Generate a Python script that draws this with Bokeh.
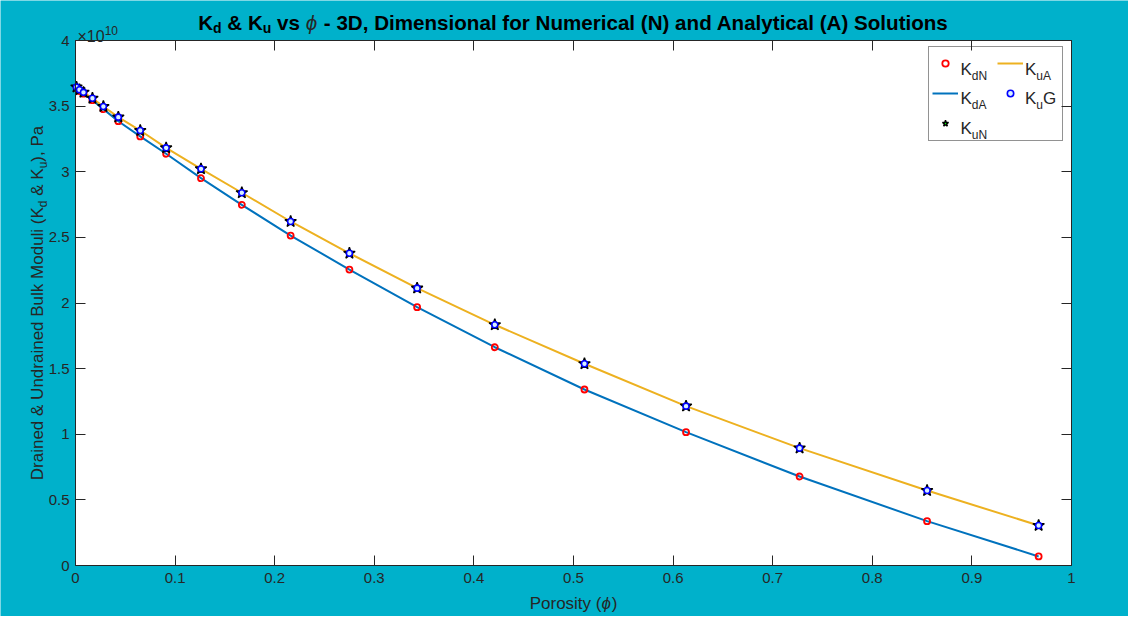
import math
from bokeh.plotting import figure
from bokeh.models import (Range1d, LinearAxis, Label, Legend, LegendItem,
                          FixedTicker, NumeralTickFormatter, BoxAnnotation,
                          CustomJSTickFormatter)
from bokeh.embed import file_html
from bokeh.resources import INLINE

# ---------------- data (moduli in units of 1e10 Pa) ----------------
phi = [0.001, 0.004, 0.008, 0.017, 0.028, 0.043, 0.065, 0.091, 0.126, 0.167,
       0.216, 0.275, 0.343, 0.421, 0.511, 0.613, 0.727, 0.855, 0.967]
kd_num = [3.640, 3.615, 3.595, 3.545, 3.477, 3.385, 3.269, 3.137, 2.951, 2.748,
          2.514, 2.255, 1.968, 1.663, 1.341, 1.016, 0.678, 0.338, 0.069]
kd_ana = [3.640, 3.615, 3.595, 3.545, 3.477, 3.385, 3.269, 3.137, 2.951, 2.748,
          2.514, 2.255, 1.968, 1.663, 1.341, 1.016, 0.678, 0.338, 0.069]
ku_num = [3.645, 3.625, 3.605, 3.560, 3.497, 3.416, 3.314, 3.182, 3.022, 2.840,
          2.621, 2.379, 2.113, 1.834, 1.537, 1.214, 0.894, 0.571, 0.305]
ku_ana = [3.645, 3.625, 3.605, 3.560, 3.497, 3.416, 3.314, 3.182, 3.022, 2.840,
          2.621, 2.379, 2.113, 1.834, 1.537, 1.214, 0.894, 0.571, 0.305]
ku_gass = [3.645, 3.625, 3.605, 3.560, 3.497, 3.416, 3.314, 3.182, 3.022, 2.840,
           2.621, 2.379, 2.113, 1.834, 1.537, 1.214, 0.894, 0.571, 0.305]
x_ticks = [0, 0.1, 0.2, 0.3, 0.4, 0.5, 0.6, 0.7, 0.8, 0.9, 1]
y_ticks = [0, 0.5, 1, 1.5, 2, 2.5, 3, 3.5, 4]
X_LIM = (0, 1)
Y_LIM = (0, 4)

# ---------------- layout (pixels) ----------------
W, H = 1128, 616
AX_L, AX_R, AX_T, AX_B = 75, 1071, 40, 565   # plot box on the page

TEAL = "#00B1CB"
DARK = "#262626"
FONT = "Liberation Sans"
BLUE = "#0072BD"
ORANGE = "#EDB120"

# Arial-compatible advance widths (per 1000 em)
REG = {' ': 278, '&': 667, '(': 333, ')': 333, ',': 278, '-': 333, '.': 278,
       'A': 667, 'B': 667, 'D': 722, 'G': 778, 'K': 667, 'M': 833, 'N': 722,
       'P': 667, 'U': 722, 'a': 556, 'd': 556, 'e': 556, 'i': 222, 'k': 500,
       'l': 222, 'n': 556, 'o': 556, 'r': 333, 's': 500, 't': 278, 'u': 556,
       'y': 500, '×': 584, 'ϕ': 600}
BOLD = {' ': 278, '&': 722, '(': 333, ')': 333, ',': 278, '-': 333,
        'A': 722, 'D': 722, 'K': 722, 'N': 722, 'S': 667, 'a': 556, 'c': 556,
        'd': 611, 'e': 556, 'f': 333, 'i': 278, 'l': 278, 'm': 889, 'n': 611,
        'o': 611, 'r': 389, 's': 556, 't': 333, 'u': 611, 'v': 556, 'y': 556,
        'ϕ': 600}


def tw(s, size, bold=False):
    tab = BOLD if bold else REG
    return sum(tab.get(c, 556) for c in s) * size / 1000.0


# data ranges chosen so the data box lands on the plot box; frame = whole canvas
sx = (AX_R - AX_L) / (X_LIM[1] - X_LIM[0])
sy = (AX_B - AX_T) / (Y_LIM[1] - Y_LIM[0])
xr = Range1d(X_LIM[0] - AX_L / sx, X_LIM[1] + (W - AX_R) / sx)
yr = Range1d(Y_LIM[0] - (H - AX_B) / sy, Y_LIM[1] + AX_T / sy)

p = figure(width=W, height=H, x_range=xr, y_range=yr,
           output_backend="svg", toolbar_location=None,
           background_fill_color=TEAL, border_fill_color=TEAL,
           min_border=0)
p.title.visible = False
p.xgrid.visible = False
p.ygrid.visible = False
p.outline_line_color = None

p.add_layout(BoxAnnotation(left=X_LIM[0], right=X_LIM[1], bottom=Y_LIM[0], top=Y_LIM[1],
                           fill_color="white", fill_alpha=1, line_color=None,
                           level="underlay"))

p.add_layout(LinearAxis(), "above")
p.add_layout(LinearAxis(), "right")
p.below[0].fixed_location = Y_LIM[0]
p.above[0].fixed_location = Y_LIM[1]
p.left[0].fixed_location = X_LIM[0]
p.right[0].fixed_location = X_LIM[1]

for ax in p.xaxis:
    ax.ticker = FixedTicker(ticks=x_ticks)
    ax.formatter = NumeralTickFormatter(format="0.[0]")
    ax.bounds = X_LIM
for ax in p.yaxis:
    ax.ticker = FixedTicker(ticks=y_ticks)
    ax.formatter = NumeralTickFormatter(format="0.[0]")
    ax.bounds = Y_LIM
for ax in p.axis:
    ax.axis_line_color = DARK
    ax.major_tick_line_color = DARK
    ax.major_tick_in = 10
    ax.major_tick_out = 0
    ax.minor_tick_line_color = None
    ax.major_label_text_font = FONT
    ax.major_label_text_font_size = "15px"
    ax.major_label_text_color = DARK
for ax in (p.above[0], p.right[0]):
    ax.formatter = CustomJSTickFormatter(code="return ''")
p.below[0].major_label_standoff = 7
p.left[0].major_label_standoff = 6

# ---------------- data renderers ----------------
r_kdA = p.line(phi, kd_ana, line_color=BLUE, line_width=2)
r_kuA = p.line(phi, ku_ana, line_color=ORANGE, line_width=2)
r_kdN = p.scatter(phi, kd_num, marker="circle", size=6, line_color="#FF0000",
                  fill_color=None, line_width=1.8)
r_kuN = p.scatter(phi, ku_num, marker="star", size=12, line_color="black",
                  fill_color="#00FF00", line_width=1.4)
r_kuG = p.scatter(phi, ku_gass, marker="circle", size=6, line_color="#0000FF",
                  fill_color="#D8F0FF", line_width=1.6)

# ---------------- legend (samples from Bokeh, text as labels) ----------------
LEG_L, LEG_B = 927.7, 140.7
legend = Legend(items=[LegendItem(label=" ", renderers=[r_kdN]),
                       LegendItem(label=" ", renderers=[r_kuA]),
                       LegendItem(label=" ", renderers=[r_kdA]),
                       LegendItem(label=" ", renderers=[r_kuG]),
                       LegendItem(label=" ", renderers=[r_kuN])],
                orientation="horizontal", ncols=2,
                location=(LEG_L, H - LEG_B),
                glyph_width=26, glyph_height=16,
                label_width=33, label_height=27, label_standoff=3,
                label_text_font_size="8px",
                spacing=3, padding=3, margin=0,
                border_line_color=DARK, border_line_width=1,
                background_fill_color="white", background_fill_alpha=0)
p.add_layout(legend, "center")


def lab(text, px, py, size, bold=False, italic=False, angle=0.0, align="left"):
    """text at page pixel (px, py) = baseline start."""
    style = "normal"
    if bold and italic:
        style = "bold italic"
    elif bold:
        style = "bold"
    elif italic:
        style = "italic"
    if align == "left":
        lead = len(text) - len(text.lstrip(" "))
        shift = lead * 278 * size / 1000.0
        px += shift * math.cos(angle)
        py -= shift * math.sin(angle)
        text = text.strip(" ")
    p.add_layout(Label(x=px, y=H - py, x_units="screen", y_units="screen", text=text,
                       text_font=FONT, text_font_size=f"{size}px",
                       text_font_style=style,
                       text_color="black" if bold else DARK,
                       text_align=align, text_baseline="alphabetic", angle=angle,
                       level="overlay"))


# legend texts
LS, LSS = 17, 12
leg_rows = [("dN", "uA", ""), ("dA", "u", "G"), ("uN", None, None)]
base_y = [68.5, 98.0, 127.5]
col_x = [960.0, 1024.5]
for r, (s1, s2, s2b) in enumerate(leg_rows):
    y = base_y[r]
    lab("K", col_x[0], y, LS)
    lab(s1, col_x[0] + tw("K", LS), y + 6.5, LSS)
    if s2 is not None:
        lab("K", col_x[1], y, LS)
        lab(s2, col_x[1] + tw("K", LS), y + 6.5, LSS)
        if s2b:
            lab(s2b, col_x[1] + tw("K", LS) + tw(s2, LSS), y, LS)

# title
TS, TSS = 20.6, 14
pieces = [("K", TS, 0, True, False), ("d", TSS, 5, True, False),
          (" & K", TS, 0, True, False), ("u", TSS, 5, True, False),
          (" vs ", TS, 0, True, False), ("ϕ", TS, 0, False, True),
          (" - 3D, Dimensional for Numerical (N) and Analytical (A) Solutions", TS, 0, True, False)]
total = sum(tw(t, s, True) for t, s, _, _, _ in pieces)
x = (AX_L + AX_R) / 2 - total / 2
for t, s, dy, b, it in pieces:
    lab(t, x, 22 + dy, s, bold=b, italic=it)
    x += tw(t, s, True)

# y-axis label (rotated, reads bottom to top)
YS, YSS = 17, 12
ypieces = [("Drained & Undrained Bulk Moduli (K", YS, 0), ("d", YSS, 5),
           (" & K", YS, 0), ("u", YSS, 5), ("), Pa", YS, 0)]
total = sum(tw(t, s) for t, s, _ in ypieces)
yb = (AX_T + AX_B) / 2 + total / 2
for t, s, dx in ypieces:
    lab(t, 37 + dx, yb, s, angle=math.pi / 2)
    yb -= tw(t, s)

# x-axis label with italic phi
XS = 17
xpieces = [("Porosity (", False), ("ϕ", True), (")", False)]
total = sum(tw(t, XS) for t, _ in xpieces)
x = (AX_L + AX_R) / 2 - total / 2
for t, it in xpieces:
    lab(t, x, 603, XS, italic=it)
    x += tw(t, XS)

# exponent
lab("×10", 77, 36, 16)
lab("10", 77 + tw("×10", 16), 29.5, 12)

open("out.html", "w").write(file_html(p, INLINE))
